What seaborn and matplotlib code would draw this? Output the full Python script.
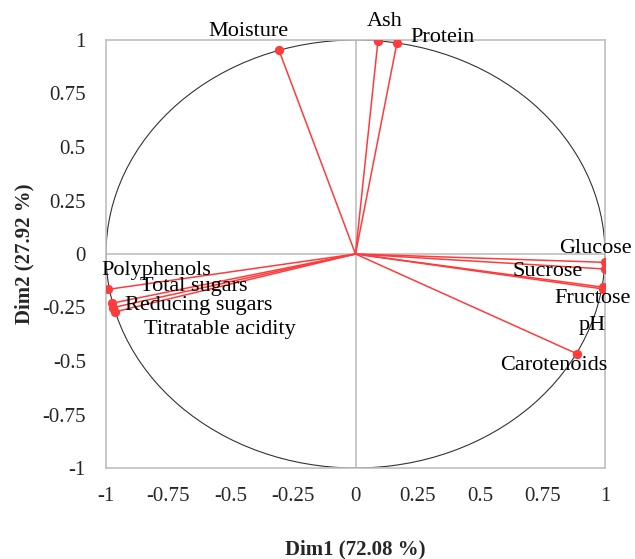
import numpy as np
import pandas as pd
import seaborn as sns
import matplotlib.pyplot as plt
from matplotlib.patches import Circle

variables = ['Moisture', 'Ash', 'Protein', 'Glucose', 'Sucrose', 'Fructose', 'pH',
             'Carotenoids', 'Polyphenols', 'Total sugars', 'Reducing sugars', 'Titratable acidity']
dim1 = [-0.307, 0.090, 0.166, 1.000, 0.998, 0.990, 0.992, 0.889, -0.990, -0.976, -0.970, -0.963]
dim2 = [0.953, 0.996, 0.986, -0.039, -0.070, -0.163, -0.155, -0.467, -0.165, -0.230, -0.250, -0.270]
ticks = [-1, -0.75, -0.5, -0.25, 0, 0.25, 0.5, 0.75, 1]
tick_labels = ['-1', '-0.75', '-0.5', '-0.25', '0', '0.25', '0.5', '0.75', '1']

# where each label sits (data coords)
label_pos = {
    'Moisture': (-0.43, 1.04), 'Ash': (0.118, 1.085), 'Protein': (0.35, 1.01),
    'Glucose': (0.962, 0.028), 'Sucrose': (0.77, -0.083), 'Fructose': (0.952, -0.21),
    'pH': (0.948, -0.336), 'Carotenoids': (0.796, -0.523), 'Polyphenols': (-0.80, -0.075),
    'Total sugars': (-0.65, -0.154), 'Reducing sugars': (-0.63, -0.24),
    'Titratable acidity': (-0.543, -0.352),
}

df = pd.DataFrame({'var': variables, 'Dim1': dim1, 'Dim2': dim2})

sns.set_style('white')
plt.rcParams['font.family'] = ['Liberation Serif', 'DejaVu Serif']
red = '#FF3B3B'

fig = plt.figure(figsize=(6.35, 5.59), dpi=100)
ax = fig.add_axes([106 / 635, 1 - 468 / 559, 499 / 635, 428 / 559])

ax.axhline(0, color='#BFBFBF', lw=1.2, zorder=1)
ax.axvline(0, color='#BFBFBF', lw=1.2, zorder=1)
ax.add_patch(Circle((0, 0), 1, fill=False, edgecolor='#333333', lw=0.8, zorder=2))

for x, y in zip(dim1, dim2):
    ax.plot([0, x], [0, y], color=red, lw=1.1, zorder=3)
sns.scatterplot(data=df, x='Dim1', y='Dim2', ax=ax, color=red, s=45,
                edgecolor=red, linewidth=0, zorder=4, legend=False)

for v in variables:
    lx, ly = label_pos[v]
    ax.text(lx, ly, v, fontsize=16, ha='center', va='center', color='black',
            zorder=5, clip_on=False)

ax.set_xlim(-1, 1)
ax.set_ylim(-1, 1)
ax.set_xticks(ticks)
ax.set_xticklabels(tick_labels)
ax.set_yticks(ticks)
ax.set_yticklabels(tick_labels)
ax.tick_params(axis='both', length=0, labelsize=15)
ax.tick_params(axis='x', pad=13.5)
ax.tick_params(axis='y', pad=14.5)
for s in ax.spines.values():
    s.set_color('#BFBFBF')
    s.set_linewidth(1.2)

ax.set_xlabel('Dim1 (72.08 %)', fontsize=15, fontweight='bold', labelpad=24)
ax.set_ylabel('Dim2 (27.92 %)', fontsize=15, fontweight='bold', labelpad=6)

fig.savefig('out.png', dpi=100)
